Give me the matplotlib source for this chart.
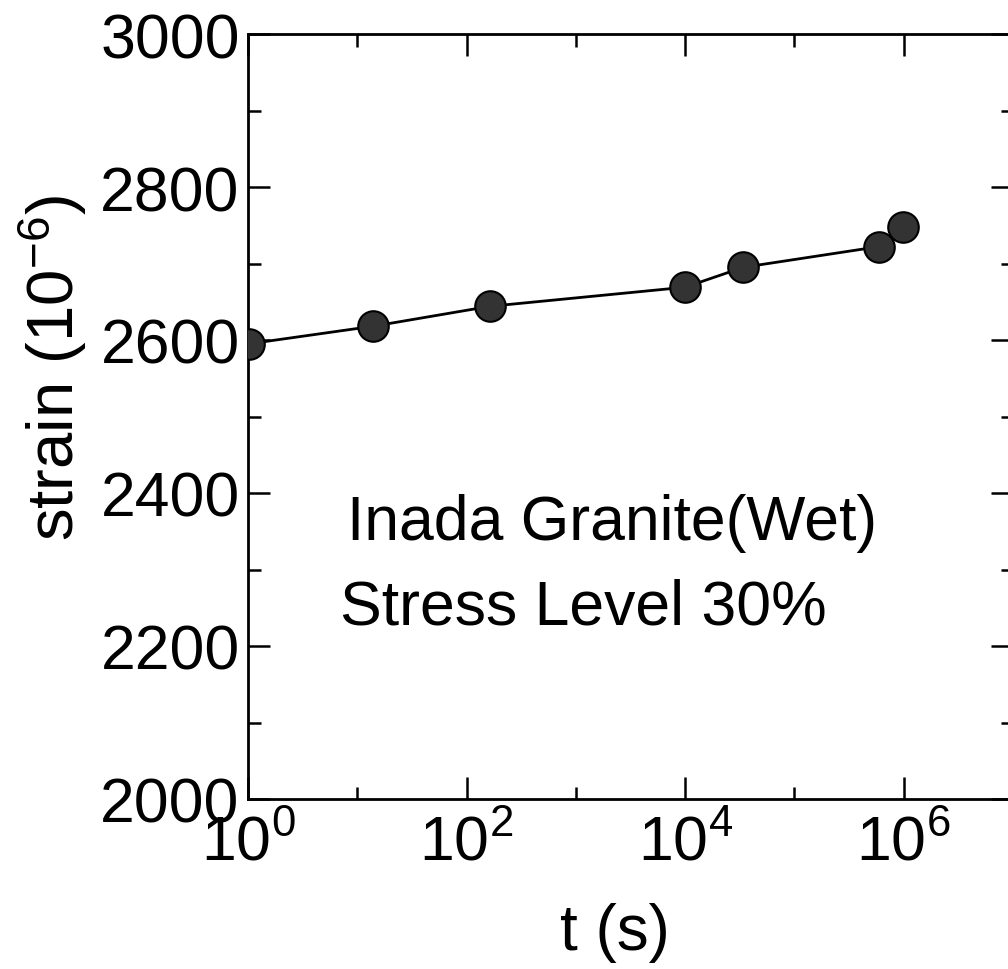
import matplotlib
matplotlib.use("Agg")
import matplotlib.pyplot as plt
from matplotlib.ticker import MultipleLocator, NullFormatter, FixedLocator

# Data
t_s = [1.02, 14, 163, 1.0e4, 3.4e4, 5.9e5, 9.8e5]
strain = [2595, 2618, 2644, 2669, 2695, 2722, 2748]

x_major = [1e0, 1e2, 1e4, 1e6]
x_minor = [1e1, 1e3, 1e5, 1e7]
y_major = [2000, 2200, 2400, 2600, 2800, 3000]

plt.rcParams['font.family'] = ['Liberation Sans', 'DejaVu Sans']
plt.rcParams['mathtext.fontset'] = 'custom'
plt.rcParams['mathtext.rm'] = 'Liberation Sans'
plt.rcParams['mathtext.it'] = 'Liberation Sans:italic'
plt.rcParams['mathtext.bf'] = 'Liberation Sans:bold'

fig = plt.figure(figsize=(10.08, 9.70), dpi=100)
W, H = 1008, 970
ax = fig.add_axes([248 / W, 1 - 800 / H, (1013 - 248) / W, (800 - 35) / H])

ax.plot(t_s, strain, color='black', lw=2.0, zorder=2)
ax.plot(t_s, strain, 'o', ms=22, mfc='#333333', mec='black', mew=1.5, zorder=3)

ax.set_xscale('log')
ax.set_xlim(1, 1e7)
ax.set_ylim(2000, 3000)
ax.xaxis.set_major_locator(FixedLocator(x_major))
ax.xaxis.set_minor_locator(FixedLocator(x_minor))
ax.xaxis.set_minor_formatter(NullFormatter())
ax.yaxis.set_major_locator(FixedLocator(y_major))
ax.yaxis.set_minor_locator(MultipleLocator(100))

for s in ax.spines.values():
    s.set_linewidth(2.0)

ax.tick_params(which='both', direction='in', top=True, right=True, width=1.8)
ax.tick_params(which='major', length=16)
ax.tick_params(which='minor', length=9)
ax.tick_params(axis='y', which='major', labelsize=45, pad=6)
ax.tick_params(axis='x', which='major', labelsize=45, pad=10)

ax.set_xlabel('t (s)', fontsize=46)
ax.set_ylabel(r'strain $(10^{-6})$', fontsize=47)
ax.xaxis.set_label_coords(0.48, -0.135)
ax.yaxis.set_label_coords(-0.208, 0.565)

ax.text(0.13, 1 - (540 - 35) / 765, 'Inada Granite(Wet)', transform=ax.transAxes,
        fontsize=45, ha='left', va='baseline')
ax.text(0.12, 1 - (625 - 35) / 765, 'Stress Level 30%', transform=ax.transAxes,
        fontsize=45, ha='left', va='baseline')

fig.savefig('out.png', dpi=100)
